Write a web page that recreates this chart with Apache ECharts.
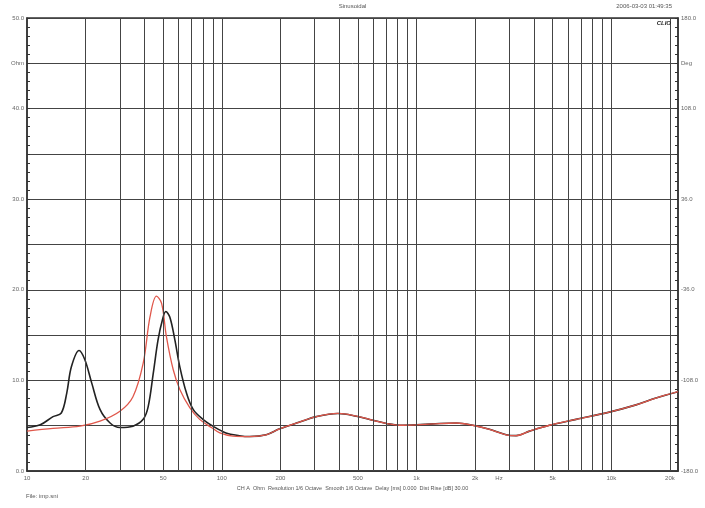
<!DOCTYPE html>
<html>
<head>
<meta charset="utf-8">
<script src="https://cdn.jsdelivr.net/npm/echarts@6/dist/echarts.min.js"></script>
<style>
  html, body { margin: 0; padding: 0; background: #fff; }
  #chart { width: 705px; height: 508px; }
</style>
</head>
<body>
<div id="chart"></div>
<script>
// impedance readings (Hz, Ohm)
const blackFreq = [10, 11.7, 13.6, 15, 16, 16.9, 18.5, 19.8, 21.5, 23.7, 26.7, 30, 35, 39.5, 41.9, 44.5, 47.1, 49.6, 51.6, 54.1, 57.4, 60.9, 65.9, 71.3, 80, 90, 105, 123,
  139, 169, 198, 251, 306, 395, 491, 598, 700, 819, 1000, 1213, 1600, 1944, 2368, 2884, 3246, 3804, 4813, 6594, 9772, 13394, 16950, 22000];
const blackOhm = [4.8, 5.1, 6.0, 6.4, 8.6, 11.5, 13.3, 12.3, 9.7, 6.8, 5.3, 4.8, 4.95, 5.7, 7.1, 10.8, 14.5, 16.7, 17.6, 17.0, 14.5, 11.5, 8.6, 6.8, 5.7, 4.95, 4.2, 3.9,
  3.8, 4.0, 4.65, 5.4, 6.0, 6.35, 6.05, 5.6, 5.25, 5.05, 5.1, 5.2, 5.3, 5.05, 4.6, 4.0, 3.9, 4.4, 5.05, 5.7, 6.5, 7.3, 8.05, 8.75];

const redFreq = [10, 13.6, 18.7, 23.7, 30, 35, 39.5, 42.8, 46.2, 49.1, 52, 56.3, 60.9, 68.5, 77, 88.5, 97.7, 114, 139, 169, 198, 251, 306, 395, 491, 598, 700, 819,
  1000, 1213, 1600, 1944, 2368, 2884, 3246, 3804, 4813, 6594, 9772, 13394, 16950, 22000];
const redOhm = [4.4, 4.7, 4.95, 5.5, 6.6, 8.2, 11.9, 17.0, 19.3, 18.5, 14.8, 11.2, 9.0, 7.0, 5.7, 4.8, 4.2, 3.85, 3.8, 4.0, 4.65, 5.4, 6.0, 6.35, 6.05, 5.6, 5.25, 5.05,
  5.1, 5.2, 5.3, 5.05, 4.6, 4.0, 3.9, 4.4, 5.05, 5.7, 6.5, 7.3, 8.05, 8.75];

const gridFreqs = [20, 30, 40, 50, 60, 70, 80, 90, 100, 200, 300, 400, 500, 600, 700, 800, 900,
  1000, 2000, 3000, 4000, 5000, 6000, 7000, 8000, 9000, 10000, 20000];
const freqLabels = [10, 20, 50, 100, 200, 500, 1000, 2000, 2650, 5000, 10000, 20000];

const font = 'Liberation Sans, Arial, sans-serif';
const labelStyle = { fontSize: 6, color: '#666', fontFamily: font };

const chart = echarts.init(document.getElementById('chart'));

const pairs = (xs, ys) => xs.map((x, i) => [x, ys[i]]);

chart.setOption({
  animation: false,
  backgroundColor: '#fff',
  grid: { left: 27, right: 27, top: 18, bottom: 37, show: true, borderColor: '#333', borderWidth: 1.5 },
  xAxis: {
    type: 'log',
    logBase: 10,
    min: 10,
    max: 22000,
    axisLine: { show: true, lineStyle: { color: '#333', width: 1.5 } },
    axisTick: { show: false },
    splitLine: { show: false },
    axisLabel: {
      ...labelStyle,
      margin: 4,
      customValues: freqLabels,
      formatter: v => {
        if (Math.abs(v - 2650) < 1) return 'Hz';
        return v >= 1000 ? (v / 1000) + 'k' : String(v);
      }
    }
  },
  yAxis: [
    {
      type: 'value',
      min: 0,
      max: 50,
      interval: 5,
      axisLine: { show: true, lineStyle: { color: '#333', width: 1.5 } },
      axisTick: { show: true, inside: true, length: 3, lineStyle: { color: '#333' } },
      minorTick: { show: true, splitNumber: 5, length: 3, lineStyle: { color: '#333' } },
      splitLine: { show: true, lineStyle: { color: '#444', width: 1 } },
      axisLabel: {
        ...labelStyle,
        margin: 3,
        formatter: v => v === 45 ? 'Ohm' : (v % 10 === 0 ? v.toFixed(1) : '')
      }
    },
    {
      type: 'value',
      min: -180,
      max: 180,
      interval: 36,
      position: 'right',
      axisLine: { show: true, lineStyle: { color: '#333', width: 1.5 } },
      axisTick: { show: true, inside: true, length: 3, lineStyle: { color: '#333' } },
      minorTick: { show: true, splitNumber: 5, length: 3, lineStyle: { color: '#333' } },
      splitLine: { show: false },
      axisLabel: {
        ...labelStyle,
        margin: 3,
        formatter: v => v === 144 ? 'Deg' : ((v + 180) % 72 === 0 ? v.toFixed(1) : '')
      }
    }
  ],
  series: [
    {
      type: 'line',
      data: [],
      z: 1,
      silent: true,
      markLine: {
        silent: true,
        symbol: ['none', 'none'],
        label: { show: false },
        lineStyle: { color: '#444', width: 1, type: 'solid' },
        data: gridFreqs.map(f => ({ xAxis: f }))
      }
    },
    {
      name: 'black',
      type: 'line',
      z: 3,
      data: pairs(blackFreq, blackOhm),
      smooth: 0.35,
      symbol: 'none',
      lineStyle: { color: '#222', width: 1.6 }
    },
    {
      name: 'red',
      type: 'line',
      z: 4,
      data: pairs(redFreq, redOhm),
      smooth: 0.35,
      symbol: 'none',
      lineStyle: { color: '#e0584c', width: 1.3 }
    }
  ],
  graphic: [
    { type: 'text', left: 'center', top: 3, style: { text: 'Sinusoidal', font: '6px ' + font, fill: '#555' } },
    { type: 'text', right: 33, top: 3, style: { text: '2006-03-03 01:49:35', font: '6px ' + font, fill: '#555' } },
    { type: 'text', right: 34, top: 20, z: 10, style: { text: 'CLIO', font: 'bold italic 6px ' + font, fill: '#222' } },
    { type: 'text', left: 'center', top: 485, style: { text: 'CH A  Ohm  Resolution 1/6 Octave  Smooth 1/6 Octave  Delay [ms] 0.000  Dist Rise [dB] 30.00', font: '5.5px ' + font, fill: '#555' } },
    { type: 'text', left: 26, top: 493, style: { text: 'File: imp.sni', font: '6px ' + font, fill: '#555' } }
  ]
});
</script>
</body>
</html>
